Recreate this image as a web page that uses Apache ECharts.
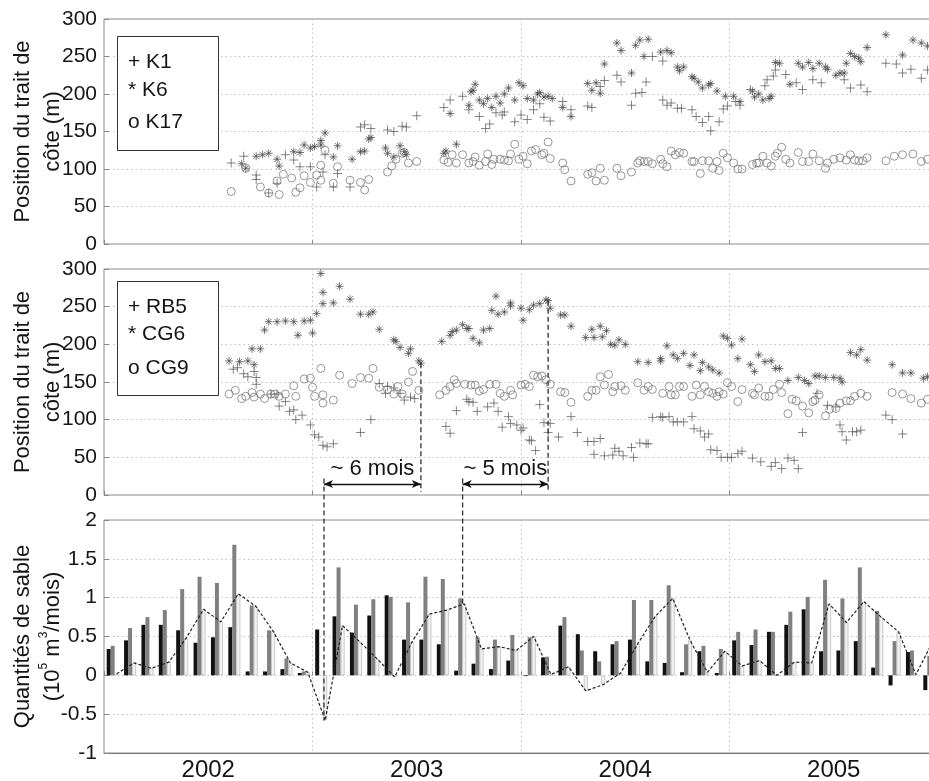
<!DOCTYPE html>
<html><head><meta charset="utf-8">
<script src="https://cdn.jsdelivr.net/npm/echarts@6/dist/echarts.min.js"></script>
<style>html,body{margin:0;padding:0;background:#fff}#c{width:929px;height:781px}</style>
</head><body><div id="c"></div>
<script>
// ---------- Panel 1 : K1 (+), K6 (*), K17 (o)  [decimal year, m] ----------
const K1 = [[2002.61,108],[2002.67,117],[2002.73,92],[2002.73,86],[2002.79,68],[2002.83,81],[2002.87,119],[2002.91,112],[2002.94,103],[2002.99,103],[2003.02,76],[2003.05,96],[2003.06,119],[2003.10,76],[2003.12,94],[2003.18,76],[2003.23,156],[2003.25,159],[2003.28,154],[2003.36,152],[2003.39,150],[2003.43,157],[2003.45,156],[2003.50,171],[2003.63,182],[2003.66,192],[2003.72,197],[2003.75,179],[2003.80,170],[2003.83,154],[2003.85,160],[2003.88,175],[2003.91,172],[2003.92,176],[2003.97,163],[2004.00,172],[2004.03,166],[2004.06,179],[2004.09,187],[2004.11,169],[2004.14,164],[2004.20,190],[2004.24,179],[2004.32,184],[2004.34,182],[2004.38,210],[2004.40,218],[2004.46,225],[2004.48,216],[2004.53,185],[2004.55,201],[2004.58,202],[2004.60,216],[2004.63,250],[2004.68,244],[2004.68,192],[2004.70,185],[2004.72,188],[2004.75,181],[2004.77,181],[2004.82,179],[2004.84,170],[2004.87,162],[2004.90,170],[2004.91,151],[2004.95,163],[2004.97,180],[2004.99,184],[2005.03,190],[2005.05,185],[2005.10,206],[2005.17,211],[2005.18,219],[2005.21,224],[2005.22,232],[2005.27,226],[2005.32,215],[2005.35,206],[2005.40,219],[2005.44,215],[2005.55,219],[2005.58,208],[2005.63,212],[2005.66,203],[2005.75,241],[2005.80,240],[2005.83,228],[2005.87,233],[2005.92,221],[2005.95,232]];
const K6 = [[2002.66,107],[2002.68,101],[2002.73,117],[2002.76,119],[2002.79,121],[2002.83,113],[2002.84,104],[2002.91,123],[2002.94,122],[2002.96,132],[2002.99,128],[2003.01,130],[2003.04,132],[2003.04,138],[2003.06,148],[2003.10,116],[2003.12,131],[2003.19,113],[2003.23,123],[2003.25,124],[2003.27,140],[2003.28,142],[2003.35,128],[2003.36,121],[2003.39,116],[2003.42,131],[2003.44,123],[2003.45,119],[2003.63,121],[2003.64,124],[2003.69,133],[2003.66,174],[2003.75,185],[2003.76,203],[2003.77,205],[2003.78,213],[2003.80,192],[2003.82,187],[2003.84,194],[2003.86,182],[2003.88,197],[2003.90,188],[2003.92,200],[2003.94,208],[2003.97,192],[2003.99,215],[2004.01,211],[2004.03,194],[2004.06,192],[2004.08,200],[2004.09,202],[2004.11,196],[2004.13,197],[2004.15,194],[2004.20,182],[2004.24,170],[2004.32,214],[2004.34,205],[2004.36,215],[2004.38,201],[2004.40,240],[2004.46,268],[2004.48,258],[2004.53,228],[2004.55,265],[2004.57,272],[2004.59,250],[2004.61,273],[2004.67,256],[2004.70,258],[2004.72,255],[2004.75,236],[2004.76,231],[2004.78,236],[2004.82,223],[2004.83,221],[2004.85,216],[2004.87,208],[2004.90,212],[2004.91,214],[2004.94,204],[2004.98,197],[2005.02,197],[2005.05,190],[2005.11,204],[2005.12,196],[2005.14,200],[2005.16,192],[2005.19,194],[2005.20,197],[2005.22,242],[2005.24,241],[2005.29,213],[2005.33,241],[2005.35,236],[2005.38,242],[2005.40,234],[2005.43,241],[2005.46,236],[2005.47,233],[2005.51,225],[2005.53,228],[2005.55,228],[2005.56,241],[2005.58,254],[2005.60,250],[2005.62,248],[2005.63,243],[2005.66,262],[2005.75,279],[2005.83,252],[2005.88,272],[2005.92,268],[2005.95,264]];
const K17 = [[2002.61,70],[2002.68,101],[2002.75,76],[2002.79,68],[2002.83,84],[2002.84,66],[2002.86,93],[2002.90,88],[2002.92,69],[2002.94,75],[2002.96,91],[2002.99,82],[2003.02,92],[2003.04,85],[2003.04,105],[2003.06,125],[2003.10,81],[2003.12,103],[2003.18,85],[2003.23,82],[2003.25,72],[2003.27,86],[2003.36,96],[2003.38,104],[2003.40,113],[2003.43,121],[2003.44,122],[2003.46,108],[2003.50,110],[2003.63,112],[2003.65,109],[2003.67,119],[2003.69,108],[2003.72,119],[2003.75,108],[2003.77,110],[2003.78,116],[2003.80,105],[2003.83,110],[2003.84,120],[2003.86,106],[2003.87,113],[2003.90,113],[2003.92,112],[2003.94,111],[2003.95,120],[2003.97,133],[2003.99,113],[2004.01,117],[2004.03,107],[2004.05,124],[2004.07,126],[2004.10,119],[2004.11,121],[2004.13,136],[2004.14,114],[2004.20,108],[2004.21,99],[2004.24,84],[2004.32,93],[2004.34,95],[2004.36,84],[2004.38,101],[2004.40,85],[2004.46,101],[2004.48,91],[2004.53,96],[2004.56,108],[2004.57,111],[2004.59,110],[2004.61,110],[2004.63,107],[2004.67,113],[2004.68,107],[2004.70,103],[2004.72,124],[2004.74,119],[2004.76,122],[2004.78,121],[2004.82,110],[2004.83,110],[2004.86,94],[2004.87,111],[2004.90,111],[2004.92,101],[2004.94,110],[2004.95,98],[2004.97,121],[2004.99,115],[2005.02,108],[2005.04,100],[2005.06,100],[2005.11,106],[2005.13,108],[2005.14,108],[2005.16,117],[2005.18,108],[2005.20,104],[2005.22,117],[2005.23,121],[2005.25,129],[2005.27,113],[2005.29,108],[2005.33,122],[2005.35,110],[2005.38,110],[2005.40,120],[2005.43,111],[2005.46,101],[2005.47,108],[2005.50,113],[2005.53,115],[2005.56,112],[2005.58,119],[2005.60,112],[2005.62,111],[2005.64,111],[2005.66,115],[2005.75,111],[2005.79,117],[2005.83,119],[2005.88,120],[2005.92,110],[2005.95,113]];

// ---------- Panel 2 : RB5 (+), CG6 (*), CG9 (o) ----------
const RB5 = [[2002.62,167],[2002.64,169],[2002.67,161],[2002.69,157],[2002.72,164],[2002.73,156],[2002.73,147],[2002.80,134],[2002.83,134],[2002.84,118],[2002.87,124],[2002.89,111],[2002.91,113],[2002.92,100],[2002.95,106],[2002.99,93],[2003.01,80],[2003.03,77],[2003.05,66],[2003.07,64],[2003.10,68],[2003.23,83],[2003.28,100],[2003.32,148],[2003.35,135],[2003.36,144],[2003.39,142],[2003.42,135],[2003.44,126],[2003.47,130],[2003.49,128],[2003.64,91],[2003.66,82],[2003.69,112],[2003.74,127],[2003.75,124],[2003.77,123],[2003.79,111],[2003.84,117],[2003.87,122],[2003.89,111],[2003.91,90],[2003.94,104],[2003.95,95],[2003.98,93],[2004.00,86],[2004.01,89],[2004.04,73],[2004.05,72],[2004.07,59],[2004.09,120],[2004.11,96],[2004.13,83],[2004.14,95],[2004.18,77],[2004.24,104],[2004.27,83],[2004.32,71],[2004.35,71],[2004.38,75],[2004.35,54],[2004.40,52],[2004.44,53],[2004.45,62],[2004.47,58],[2004.49,52],[2004.54,50],[2004.53,63],[2004.57,69],[2004.60,68],[2004.61,68],[2004.63,103],[2004.67,104],[2004.68,103],[2004.71,104],[2004.73,97],[2004.75,97],[2004.78,97],[2004.82,104],[2004.83,88],[2004.86,85],[2004.88,77],[2004.90,81],[2004.91,60],[2004.94,59],[2004.96,50],[2004.99,50],[2005.01,50],[2005.04,55],[2005.06,58],[2005.11,49],[2005.15,44],[2005.20,38],[2005.22,43],[2005.25,35],[2005.28,49],[2005.31,46],[2005.33,35],[2005.35,83],[2005.42,135],[2005.47,119],[2005.51,117],[2005.53,93],[2005.54,84],[2005.56,73],[2005.59,84],[2005.61,84],[2005.63,86],[2005.75,106],[2005.78,100],[2005.83,81]];
const CG6 = [[2002.60,178],[2002.65,177],[2002.69,178],[2002.72,173],[2002.71,194],[2002.75,194],[2002.77,219],[2002.79,230],[2002.83,230],[2002.87,231],[2002.91,230],[2002.93,212],[2002.96,231],[2002.99,232],[2003.02,241],[2003.00,215],[2003.04,294],[2003.05,269],[2003.05,254],[2003.10,255],[2003.13,277],[2003.18,260],[2003.23,240],[2003.27,240],[2003.29,243],[2003.32,220],[2003.39,206],[2003.40,204],[2003.42,196],[2003.46,188],[2003.47,194],[2003.51,178],[2003.52,175],[2003.62,204],[2003.66,212],[2003.67,217],[2003.69,219],[2003.72,226],[2003.74,221],[2003.75,221],[2003.77,208],[2003.80,202],[2003.82,219],[2003.85,221],[2003.86,245],[2003.89,240],[2003.92,243],[2003.88,264],[2003.95,255],[2003.95,251],[2004.00,248],[2004.01,232],[2004.04,246],[2004.06,252],[2004.09,254],[2004.12,259],[2004.13,258],[2004.14,248],[2004.19,239],[2004.21,239],[2004.24,224],[2004.31,209],[2004.35,209],[2004.39,210],[2004.34,220],[2004.38,224],[2004.41,218],[2004.43,200],[2004.45,199],[2004.47,206],[2004.50,200],[2004.56,177],[2004.61,176],[2004.67,178],[2004.67,181],[2004.70,198],[2004.73,186],[2004.75,181],[2004.78,188],[2004.81,172],[2004.83,186],[2004.86,165],[2004.87,176],[2004.90,170],[2004.92,166],[2004.95,162],[2004.97,211],[2004.99,208],[2005.01,199],[2005.04,181],[2005.06,207],[2005.10,173],[2005.12,164],[2005.14,186],[2005.17,177],[2005.20,178],[2005.22,168],[2005.24,168],[2005.28,152],[2005.33,156],[2005.36,152],[2005.38,148],[2005.41,158],[2005.43,158],[2005.46,156],[2005.50,156],[2005.53,155],[2005.54,150],[2005.58,189],[2005.61,186],[2005.63,193],[2005.66,179],[2005.78,173],[2005.83,162],[2005.87,162],[2005.93,155],[2005.95,157]];
const CG9 = [[2002.60,134],[2002.63,139],[2002.66,128],[2002.68,131],[2002.71,136],[2002.72,130],[2002.75,134],[2002.77,128],[2002.80,134],[2002.82,134],[2002.84,131],[2002.87,134],[2002.91,145],[2002.92,131],[2002.96,154],[2002.99,155],[2003.00,143],[2003.01,131],[2003.04,168],[2003.05,133],[2003.05,122],[2003.10,126],[2003.13,159],[2003.19,148],[2003.23,156],[2003.27,155],[2003.29,168],[2003.32,143],[2003.36,140],[2003.39,134],[2003.41,144],[2003.43,134],[2003.46,150],[2003.48,164],[2003.51,139],[2003.61,133],[2003.64,139],[2003.66,144],[2003.68,153],[2003.69,148],[2003.73,147],[2003.76,146],[2003.78,146],[2003.80,138],[2003.82,140],[2003.85,147],[2003.88,147],[2003.90,135],[2003.92,131],[2003.95,139],[2003.96,133],[2004.00,146],[2004.02,147],[2004.04,144],[2004.06,159],[2004.08,157],[2004.10,158],[2004.12,153],[2004.14,147],[2004.19,137],[2004.21,136],[2004.24,123],[2004.32,131],[2004.34,139],[2004.36,139],[2004.38,157],[2004.40,146],[2004.42,160],[2004.44,137],[2004.45,144],[2004.48,145],[2004.50,139],[2004.56,149],[2004.59,139],[2004.61,144],[2004.63,140],[2004.68,135],[2004.71,144],[2004.72,133],[2004.74,133],[2004.76,144],[2004.78,144],[2004.82,131],[2004.84,146],[2004.86,133],[2004.88,144],[2004.90,137],[2004.92,135],[2004.94,131],[2004.95,137],[2004.97,134],[2004.99,149],[2005.01,144],[2005.04,124],[2005.06,140],[2005.11,135],[2005.12,133],[2005.14,142],[2005.17,131],[2005.19,131],[2005.21,140],[2005.24,147],[2005.25,136],[2005.28,108],[2005.30,127],[2005.32,125],[2005.35,118],[2005.38,109],[2005.40,124],[2005.41,126],[2005.43,133],[2005.46,105],[2005.48,114],[2005.51,115],[2005.53,122],[2005.56,125],[2005.58,125],[2005.60,131],[2005.63,135],[2005.66,131],[2005.78,136],[2005.83,134],[2005.87,128],[2005.92,122],[2005.95,127]];

// ---------- Panel 3 : monthly sand quantities (10^5 m3/month), Jan 2002 .. Dec 2005 ----------
const monthLabels = [];
for (let y = 2002; y <= 2005; y++) for (let m = 1; m <= 12; m++) monthLabels.push(y + '-' + (m < 10 ? '0' : '') + m);
const barBlack = [0.34,0.45,0.65,0.65,0.58,0.42,0.49,0.62,0.05,0.05,0.08,0.03, 0.59,0.76,0.55,0.77,1.03,0.46,0.46,0.40,0.06,0.15,0.08,0.19, -0.01,0.23,0.64,0.53,0.31,0.40,0.46,0.18, 0.16,0.04,0.31,0.03,0.45,0.39,0.56,0.65,0.85,0.31,0.32,0.44, 0.10,-0.13,0.30,-0.19];
const barGray  = [0.38,0.61,0.75,0.84,1.11,1.27,1.19,1.68,0.90,0.58,0.22,0.05, 0,1.39,0.91,0.98,1.01,0.94,1.27,1.24,0.99,0.49,0.46,0.52, 0.49,0.24,0.75,0.32,0.18,0.44,0.97,0.97, 1.16,0.40,0.38,0.34,0.56,0.59,0.56,0.82,1.01,1.23,0.99,1.39, 0.83,0.44,0.32,0.25];
const barNet   = [0.02,0.16,0.09,0.17,0.48,0.85,0.69,1.05,0.89,0.57,0.16,0.04, -0.58,0.64,0.43,0.21,-0.02,0.43,0.79,0.84,0.92,0.34,0.37,0.32, 0.50,0.01,0.11,-0.20,-0.12,0.03,0.41,0.76, 0.99,0.45,0.04,0.31,0.12,0.19,0.0,0.17,0.16,0.92,0.68,0.95, 0.75,0.56,0.01,0.45];

// annotation (data coordinates): dashed guides [x, [grid, yStart], [grid, yEnd]]
const guides = [[2003.055,[1,22],[2,-0.58]],[2003.52,[1,175],[1,4]],[2003.72,[1,22],[2,0.92]],[2004.13,[1,258],[1,4]]];
const spans = [[2003.055,2003.52,14.6,'~ 6 mois'],[2003.72,2004.13,14.6,'~ 5 mois']];
const yearTicks = ['2002','2003','2004','2005'];

const FONT = '"Liberation Sans", Arial, Helvetica, sans-serif';
const PLUS = 'path://M5,0L5,10M0,5L10,5';
const STAR = 'path://M5,0L5,10M0,5L10,5M1.6,1.6L8.4,8.4M1.6,8.4L8.4,1.6';
const TXT = '#151515';
const GRIDC = '#c2c2c2';

function xTime(g) {
  return {type:'value', gridIndex:g, position:'bottom', min:2002, max:2006, interval:1,
    axisLabel:{show:false}, axisLine:{show:false},
    axisTick:{show:true, inside:true, length:4, lineStyle:{color:'#888'}},
    splitLine:{show:true, lineStyle:{color:GRIDC, type:[1.5,3], width:1}}};
}
function yPos(g) {
  return {type:'value', gridIndex:g, min:0, max:300, interval:50,
    name:'Position du trait de\ncôte (m)', nameLocation:'middle', nameGap:36, nameMoveOverlap:false,
    nameTextStyle:{fontSize:22, lineHeight:30, color:TXT, fontFamily:FONT},
    axisLabel:{fontSize:21, color:TXT, fontFamily:FONT, margin:7},
    axisLine:{show:false}, axisTick:{show:true, inside:true, length:5, lineStyle:{color:'#888'}},
    splitLine:{show:true, lineStyle:{color:GRIDC, type:[1.5,3], width:1}}};
}
function scat(name, data, sym, size, color, g) {
  return {name, type:'scatter', xAxisIndex:g, yAxisIndex:g, data, symbol:sym, symbolSize:size,
    itemStyle:{color:'rgba(0,0,0,0)', borderColor:color, borderWidth:0.9}, silent:true};
}
function gridAt(top, height) {
  return {left:104, right:-9, top, height, show:true, borderColor:'#8a8a8a', borderWidth:1,
    containLabel:false, outerBoundsMode:'none'};
}

const chart = echarts.init(document.getElementById('c'), null, {renderer:'canvas'});
const option = {
  animation:false,
  backgroundColor:'#fff',
  grid:[gridAt(19,225), gridAt(269,226), gridAt(520,233)],
  xAxis:[
    xTime(0), xTime(1), xTime(2),
    {type:'value', gridIndex:2, position:'bottom', min:2002, max:2006, interval:0.5,
      axisLine:{show:false}, axisTick:{show:false}, splitLine:{show:false},
      axisLabel:{fontSize:24, color:TXT, fontFamily:FONT, margin:5,
        formatter:v => { const k = Math.round((v - 2002.5)); return Math.abs(v - 2002.5 - k) < 1e-6 && yearTicks[k] ? yearTicks[k] : ''; }}},
    {type:'category', gridIndex:2, position:'bottom', data:monthLabels, axisLabel:{show:false}, axisTick:{show:false},
      splitLine:{show:false}, axisLine:{show:true, onZero:true, lineStyle:{color:'#777', width:1}}}
  ],
  yAxis:[
    yPos(0), yPos(1),
    {type:'value', gridIndex:2, min:-1, max:2, interval:0.5,
      name:'Quantités de sable\n(10{s|5} m{s|3}/mois)', nameLocation:'middle', nameGap:36, nameMoveOverlap:false,
      nameTextStyle:{fontSize:22, lineHeight:30, color:TXT, fontFamily:FONT,
        rich:{s:{fontSize:12, verticalAlign:'top', lineHeight:24, color:TXT, fontFamily:FONT}}},
      axisLabel:{fontSize:21, color:TXT, fontFamily:FONT, margin:7},
      axisLine:{show:false}, axisTick:{show:true, inside:true, length:5, lineStyle:{color:'#888'}},
      splitLine:{show:true, lineStyle:{color:GRIDC, type:[1.5,3], width:1}}}
  ],
  series:[
    scat('K1', K1, PLUS, 9, '#555', 0),
    scat('K6', K6, STAR, 8, '#444', 0),
    scat('K17', K17, 'circle', 8, '#707070', 0),
    scat('RB5', RB5, PLUS, 9, '#555', 1),
    Object.assign(scat('CG6', CG6, STAR, 8, '#444', 1), {
      markLine:{silent:true, symbol:['arrow','arrow'], symbolSize:[6,9],
        lineStyle:{color:'#111', type:'solid', width:1.3},
        label:{show:true, position:'middle', formatter:'{b}', fontSize:22, color:TXT, fontFamily:FONT, distance:4},
        data: spans.map(s => [{name:s[3], coord:[s[0], s[2]]}, {coord:[s[1], s[2]]}])}
    }),
    scat('CG9', CG9, 'circle', 8, '#707070', 1),
    {name:'noir', type:'bar', xAxisIndex:4, yAxisIndex:2, data:barBlack, barWidth:4, barGap:'0%',
      itemStyle:{color:'#111'}, silent:true},
    {name:'gris', type:'bar', xAxisIndex:4, yAxisIndex:2, data:barGray, barWidth:4, barGap:'0%',
      itemStyle:{color:'#808080'}, silent:true},
    {name:'net', type:'bar', xAxisIndex:4, yAxisIndex:2, data:barNet, barWidth:4, barGap:'0%',
      itemStyle:{color:'#f3f3f3', borderColor:'#bcbcbc', borderWidth:0.8}, silent:true},
    {name:'net-line', type:'line', xAxisIndex:2, yAxisIndex:2, z:5,
      data: barNet.map((v,i) => [2002 + (i + 0.73)/12, v]), symbol:'none',
      lineStyle:{color:'#222', type:[3,2], width:1.2}, silent:true}
  ],
  graphic:[
    {type:'rect', left:117, top:36, z:100, shape:{width:101, height:114}, style:{fill:'#fff', stroke:'#333', lineWidth:1}},
    {type:'text', x:128, y:62, z:101, style:{text:'+ K1', font:'21px ' + FONT, fill:TXT, verticalAlign:'middle'}},
    {type:'text', x:128, y:90, z:101, style:{text:'* K6', font:'21px ' + FONT, fill:TXT, verticalAlign:'middle'}},
    {type:'text', x:128, y:122, z:101, style:{text:'o K17', font:'21px ' + FONT, fill:TXT, verticalAlign:'middle'}},
    {type:'rect', left:117, top:281, z:100, shape:{width:101, height:114}, style:{fill:'#fff', stroke:'#333', lineWidth:1}},
    {type:'text', x:128, y:307, z:101, style:{text:'+ RB5', font:'21px ' + FONT, fill:TXT, verticalAlign:'middle'}},
    {type:'text', x:128, y:334, z:101, style:{text:'* CG6', font:'21px ' + FONT, fill:TXT, verticalAlign:'middle'}},
    {type:'text', x:128, y:368, z:101, style:{text:'o CG9', font:'21px ' + FONT, fill:TXT, verticalAlign:'middle'}}
  ]
};
chart.setOption(option);

// dashed guide lines spanning panels, positioned through the axes
const guideEls = guides.map((g, k) => {
  const p1 = chart.convertToPixel({xAxisIndex:g[1][0], yAxisIndex:g[1][0]}, [g[0], g[1][1]]);
  const p2 = chart.convertToPixel({xAxisIndex:g[2][0], yAxisIndex:g[2][0]}, [g[0], g[2][1]]);
  return {type:'line', id:'guide' + k, z:50, shape:{x1:p1[0], y1:p1[1], x2:p2[0], y2:p2[1]},
    style:{stroke:'#333', lineWidth:1.3, lineDash:[5,3]}};
});
chart.setOption({graphic: option.graphic.concat(guideEls)});
</script></body></html>
